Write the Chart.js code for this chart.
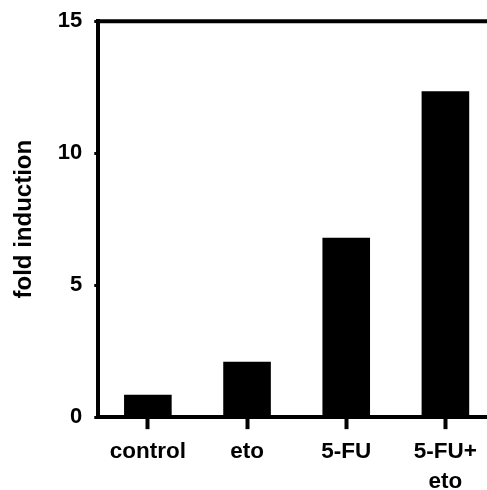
<!DOCTYPE html>
<html>
<head>
<meta charset="utf-8">
<script src="https://cdn.jsdelivr.net/npm/chart.js@4/dist/chart.umd.min.js"></script>
<style>
html,body{margin:0;padding:0;background:#fff;overflow:hidden;width:487px;height:490px;}
#wrap{position:absolute;left:0;top:-4px;width:495px;height:508px;}
</style>
</head>
<body>
<div id="wrap"><canvas id="c"></canvas></div>
<script>
const categories = [["control"], ["eto"], ["5-FU"], ["5-FU+", "eto"]];
const foldInduction = [0.85, 2.1, 6.8, 12.35];
const yTicks = [0, 5, 10, 15];
const yLabel = "fold induction";

const FONT = "'Liberation Sans', Arial, Helvetica, sans-serif";

const topLine = {
  id: 'topLine',
  afterDraw(chart) {
    const y = chart.scales.y.getPixelForValue(15);
    const ctx = chart.ctx;
    ctx.save();
    ctx.strokeStyle = '#000';
    ctx.lineWidth = 4;
    ctx.beginPath();
    ctx.moveTo(chart.scales.y.right - 2, y);
    ctx.lineTo(chart.width, y);
    ctx.stroke();
    ctx.restore();
  }
};

new Chart(document.getElementById('c'), {
  type: 'bar',
  data: {
    labels: categories,
    datasets: [{
      data: foldInduction,
      backgroundColor: '#000',
      borderWidth: 0,
      barPercentage: 0.48,
      categoryPercentage: 1.0
    }]
  },
  options: {
    responsive: true,
    maintainAspectRatio: false,
    animation: false,
    layout: { padding: { top: 6, left: 10, right: 0, bottom: 0 } },
    plugins: { legend: { display: false }, tooltip: { enabled: false } },
    scales: {
      x: {
        offset: true,
        grid: { display: true, drawOnChartArea: false, offset: false, tickLength: 12, tickWidth: 4, tickColor: '#000' },
        border: { display: true, color: '#000', width: 4 },
        ticks: { color: '#000', font: { family: FONT, size: 22.5, weight: 'bold', lineHeight: 1.33 }, padding: 7.5, maxRotation: 0, autoSkip: false }
      },
      y: {
        min: 0, max: 15,
        afterBuildTicks(axis) { axis.ticks = yTicks.map(v => ({ value: v })); },
        grid: { display: true, drawOnChartArea: false, tickLength: 4, tickWidth: 3, tickColor: '#000' },
        border: { display: true, color: '#000', width: 4 },
        ticks: { color: '#000', font: { family: FONT, size: 22, weight: 'bold' }, padding: 12 },
        title: { display: true, text: yLabel, color: '#000', font: { family: FONT, size: 24, weight: 'bold' }, padding: { top: 0, bottom: 7 } }
      }
    }
  },
  plugins: [topLine]
});
</script>
</body>
</html>
